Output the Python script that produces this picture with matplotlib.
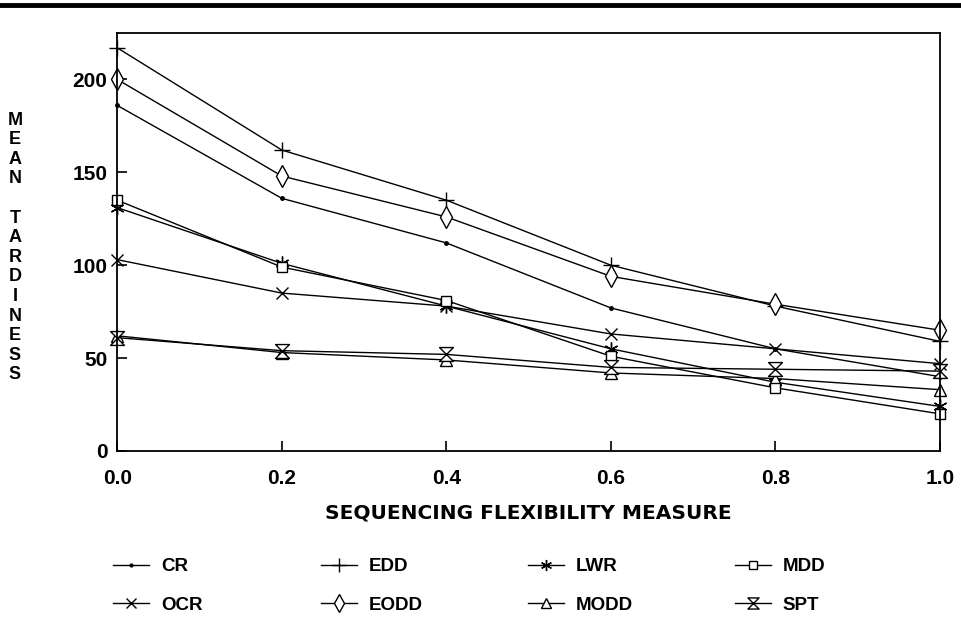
import matplotlib
matplotlib.use("Agg")
import matplotlib.pyplot as plt
from matplotlib.path import Path
from matplotlib.lines import Line2D

plt.rcParams['font.family'] = ['Liberation Sans', 'DejaVu Sans']
plt.rcParams['font.weight'] = 'bold'

# ---- data ----
flex = [0.0, 0.2, 0.4, 0.6, 0.8, 1.0]
cr   = [186, 136, 112, 77, 55, 40]
ocr  = [103, 85, 78, 63, 55, 47]
edd  = [217, 162, 135, 100, 78, 59]
eodd = [200, 148, 126, 94, 79, 65]
lwr  = [131, 101, 78, 55, 37, 24]
modd = [62, 53, 49, 42, 39, 33]
mdd  = [135, 99, 81, 51, 34, 20]
spt  = [61, 54, 52, 45, 44, 43]

x_ticks = [0.0, 0.2, 0.4, 0.6, 0.8, 1.0]
x_tick_labels = ['0.0', '0.2', '0.4', '0.6', '0.8', '1.0']
y_ticks = [0, 50, 100, 150, 200]
x_label = 'SEQUENCING FLEXIBILITY MEASURE'
y_label = 'MEAN TARDINESS'

# hourglass marker
hour = Path([(-0.5, 0.5), (0.5, 0.5), (-0.5, -0.5), (0.5, -0.5), (-0.5, 0.5)],
            [Path.MOVETO, Path.LINETO, Path.LINETO, Path.LINETO, Path.CLOSEPOLY])

series = [
    ('CR', cr, dict(marker='o', ms=2.5, mfc='black')),
    ('OCR', ocr, dict(marker='x', ms=9, mew=1.0)),
    ('EDD', edd, dict(marker='+', ms=12, mew=1.0)),
    ('EODD', eodd, dict(marker='d', ms=11, mfc='white', mew=1.0)),
    ('LWR', lwr, dict(marker=(6, 2, 0), ms=10, mew=1.0)),
    ('MODD', modd, dict(marker='^', ms=9, mfc='white', mew=1.0)),
    ('MDD', mdd, dict(marker='s', ms=7.5, mfc='white', mew=1.0)),
    ('SPT', spt, dict(marker=hour, ms=10, mfc='white', mew=1.0)),
]

fig = plt.figure(figsize=(9.62, 6.29), dpi=100)
fig.patch.set_facecolor('white')
ax = fig.add_axes([117.3 / 962, 1 - 451 / 629, (940 - 117.3) / 962, (451 - 33) / 629])

handles = {}
for name, vals, st in series:
    h, = ax.plot(flex, vals, color='black', lw=1.0, mec='black', label=name,
                 clip_on=False, **st)
    handles[name] = h

ax.set_xlim(0, 1.0)
ax.set_ylim(0, 225)
ax.set_xticks(x_ticks)
ax.set_xticklabels(x_tick_labels)
ax.set_yticks(y_ticks)
for sp in ax.spines.values():
    sp.set_linewidth(1.3)
ax.tick_params(axis='both', direction='in', length=7, width=1.2, labelsize=15)
ax.tick_params(axis='x', pad=13)
ax.tick_params(axis='y', pad=7)
for lab in ax.get_xticklabels() + ax.get_yticklabels():
    lab.set_fontweight('bold')

ax.set_xlabel(x_label, fontsize=14.5, fontweight='bold', labelpad=11,
              family=['DejaVu Sans'])

fig.text(15 / 962, 1 - 247.5 / 629, '\n'.join(list(y_label)).replace('\n \n', '\n\n'),
         ha='center', va='center', fontsize=13, fontweight='bold', linespacing=1.2)

# top rule
fig.add_artist(Line2D([0, 1], [1 - 5 / 629, 1 - 5 / 629], color='black', lw=3.5,
                      transform=fig.transFigure))

# legend in four columns
cols = [('CR', 'OCR'), ('EDD', 'EODD'), ('LWR', 'MODD'), ('MDD', 'SPT')]
col_x = [113, 321, 528, 735]
for cx, names in zip(col_x, cols):
    fig.legend([handles[n] for n in names], list(names), loc='upper left',
               bbox_to_anchor=(cx / 962, 1 - 558 / 629), frameon=False,
               borderpad=0, borderaxespad=0, handlelength=1.9, handletextpad=0.65,
               labelspacing=1.15, prop=dict(size=13.5, weight='bold'),
               markerscale=0.8)

fig.savefig('out.png', dpi=100, facecolor='white')
